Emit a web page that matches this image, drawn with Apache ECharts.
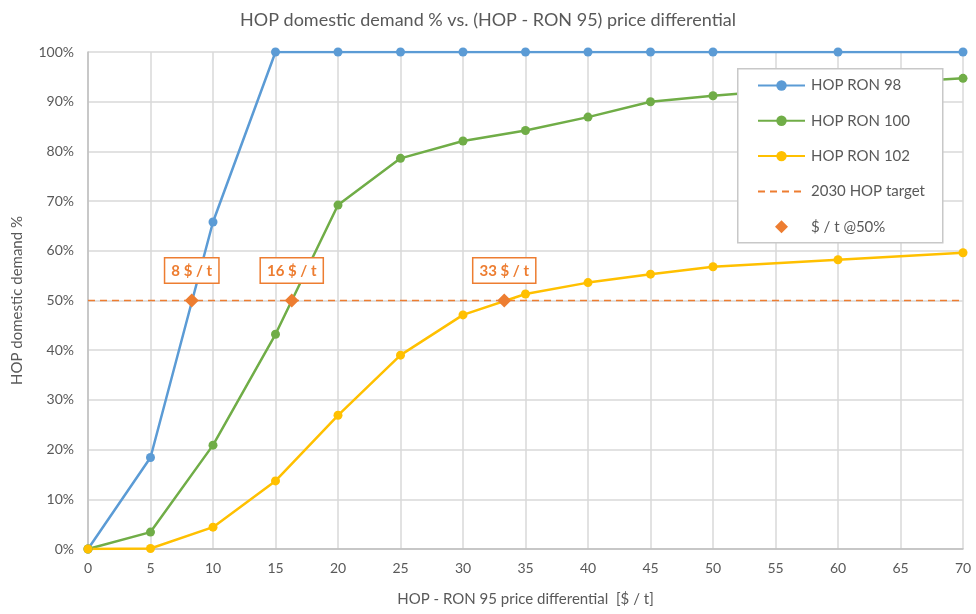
<!DOCTYPE html>
<html>
<head>
<meta charset="utf-8">
<script src="https://cdn.jsdelivr.net/npm/echarts@6/dist/echarts.min.js"></script>
<style>
html,body{margin:0;padding:0;background:#fff;}
#chart{width:976px;height:614px;}
</style>
</head>
<body>
<div id="chart"></div>
<script>
// ---- data ----
var xValues = [0, 5, 10, 15, 20, 25, 30, 35, 40, 45, 50, 60, 70];
var ron98 = [0, 18.4, 65.8, 100, 100, 100, 100, 100, 100, 100, 100, 100, 100];
var ron100 = [0, 3.4, 20.9, 43.2, 69.2, 78.6, 82.1, 84.2, 86.9, 90.0, 91.2, 93.2, 94.7];
var ron102 = [0, 0.1, 4.4, 13.7, 26.9, 39.0, 47.1, 51.3, 53.6, 55.3, 56.8, 58.2, 59.6];
var targetX = [0, 70];
var targetY = [50, 50];
var crossX = [8.3, 16.3, 33.3];
var crossY = [50, 50, 50];
var crossLabels = ['8 $ / t', '16 $ / t', '33 $ / t'];
var seriesNames = ['HOP RON 98', 'HOP RON 100', 'HOP RON 102', '2030 HOP target', '$ / t @50%'];
var xTicks = {min: 0, max: 70, interval: 5};
var yTicks = {min: 0, max: 100, interval: 10};

function pairs(xs, ys) { return xs.map(function (x, i) { return [x, ys[i]]; }); }

var FONT = 'Lato, "Noto Sans", sans-serif';
var TXT = '#595959';
var ORANGE = '#ed7d31';
var chart = echarts.init(document.getElementById('chart'), null, {renderer: 'canvas'});

function lineSeries(name, ys, color) {
  return {
    name: name, type: 'line', data: pairs(xValues, ys),
    symbol: 'circle', symbolSize: 9, showSymbol: true,
    lineStyle: {color: color, width: 2.5},
    itemStyle: {color: color},
    z: 3
  };
}

var option = {
  animation: false,
  backgroundColor: '#fff',
  title: {
    text: 'HOP domestic demand % vs. (HOP - RON 95) price differential',
    left: 'center', top: 6,
    textStyle: {fontFamily: FONT, fontSize: 18, fontWeight: 'normal', color: TXT}
  },
  grid: {left: 88, right: 13, top: 52, bottom: 65, containLabel: false},
  xAxis: {
    type: 'value', min: xTicks.min, max: xTicks.max, interval: xTicks.interval,
    name: 'HOP - RON 95 price differential  [$ / t]',
    nameLocation: 'middle', nameGap: 43,
    nameTextStyle: {fontFamily: FONT, fontSize: 15, color: TXT},
    axisLine: {show: true, lineStyle: {color: '#bfbfbf', width: 1.5}},
    axisTick: {show: false},
    axisLabel: {fontFamily: FONT, fontSize: 14, color: TXT, margin: 12},
    splitLine: {show: true, lineStyle: {color: '#d9d9d9', width: 1.5}}
  },
  yAxis: {
    type: 'value', min: yTicks.min, max: yTicks.max, interval: yTicks.interval,
    name: 'HOP domestic demand %',
    nameLocation: 'middle', nameGap: 63, nameRotate: 90,
    nameTextStyle: {fontFamily: FONT, fontSize: 15, color: TXT},
    axisLine: {show: true, lineStyle: {color: '#bfbfbf', width: 1.5}},
    axisTick: {show: false},
    axisLabel: {fontFamily: FONT, fontSize: 14, color: TXT, margin: 14, formatter: '{value}%'},
    splitLine: {show: true, lineStyle: {color: '#d9d9d9', width: 1.5}}
  },
  graphic: [{
    type: 'rect', left: 737, top: 68, z: 10,
    shape: {width: 205, height: 174},
    style: {fill: '#fff', stroke: '#c8c8c8', lineWidth: 1.5}
  }],
  legend: {
    orient: 'vertical', left: 757, top: 78, z: 20, padding: 0,
    itemWidth: 47, itemHeight: 13, itemGap: 20.3, symbolKeepAspect: true,
    data: [
      {name: seriesNames[0]},
      {name: seriesNames[1]},
      {name: seriesNames[2]},
      {name: seriesNames[3], itemStyle: {opacity: 0}},
      {name: seriesNames[4], icon: 'path://M0,-6 L6,0 L0,6 L-6,0 Z'}
    ],
    textStyle: {fontFamily: FONT, fontSize: 15, color: TXT, padding: [0, 0, 0, 1]}
  },
  series: [
    lineSeries(seriesNames[0], ron98, '#5b9bd5'),
    lineSeries(seriesNames[1], ron100, '#70ad47'),
    lineSeries(seriesNames[2], ron102, '#ffc000'),
    {
      name: seriesNames[3], type: 'line', data: pairs(targetX, targetY),
      symbol: 'none', showSymbol: false,
      lineStyle: {color: ORANGE, width: 1.5, type: [7, 5]},
      itemStyle: {color: ORANGE},
      z: 2
    },
    {
      name: seriesNames[4], type: 'scatter', data: pairs(crossX, crossY),
      symbol: 'diamond', symbolSize: 14,
      itemStyle: {color: ORANGE, opacity: 1},
      z: 5,
      label: {
        show: true, position: 'top', distance: 11,
        formatter: function (p) { return crossLabels[p.dataIndex]; },
        fontFamily: FONT, fontSize: 15, fontWeight: 'bold', color: ORANGE,
        backgroundColor: '#fff', borderColor: ORANGE, borderWidth: 1.5,
        padding: [5, 6, 4, 6]
      }
    }
  ]
};
chart.setOption(option);
</script>
</body>
</html>
